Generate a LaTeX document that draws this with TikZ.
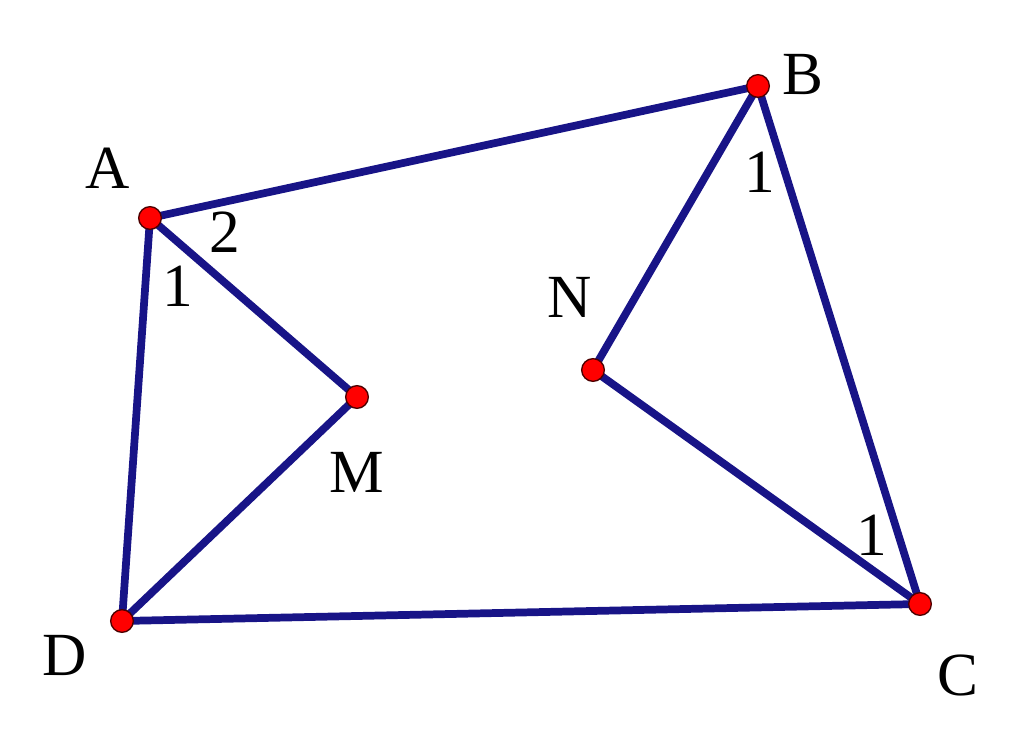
\documentclass[tikz,border=0pt]{standalone}
\usepackage{fontspec}
\setmainfont{Liberation Serif}
\definecolor{navy}{RGB}{24,20,135}
\definecolor{dotred}{RGB}{255,0,0}
\begin{document}
\begin{tikzpicture}[x=0.75pt,y=-0.75pt,
  seg/.style={navy,line width=5.8pt,line cap=round,line join=round},
  pt/.style={circle,fill=dotred,draw=black!70!red,line width=1pt,minimum size=17pt,inner sep=0pt},
  lbl/.style={font=\fontsize{46}{52}\selectfont,inner sep=0pt}]
\useasboundingbox (0,0) rectangle (1024,748);
\coordinate (A) at (150,218);
\coordinate (B) at (758,86);
\coordinate (C) at (920,604);
\coordinate (D) at (122,621);
\coordinate (M) at (357,397);
\coordinate (N) at (593,370);
\draw[seg] (A) -- (B) -- (C) -- (D) -- cycle;
\draw[seg] (A) -- (M) -- (D);
\draw[seg] (B) -- (N) -- (C);
\foreach \p in {A,B,C,D,M,N} \node[pt] (\p dot) at (\p) {};
\node[lbl] (lA) at (108,168) {A};
\node[lbl] (lB) at (803,75) {B};
\node[lbl] (lC) at (958,675) {C};
\node[lbl] (lD) at (65,655) {D};
\node[lbl] (lM) at (357,472) {M};
\node[lbl] (lN) at (570,297) {N};
\node[lbl] (a2) at (225,232) {2};
\node[lbl] (a1) at (178,286) {1};
\node[lbl] (b1) at (760,172) {1};
\node[lbl] (c1) at (872,535) {1};
\end{tikzpicture}
\end{document}
